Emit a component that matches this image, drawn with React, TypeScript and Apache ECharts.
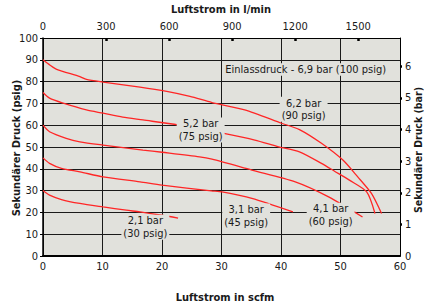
import React, { useEffect, useRef } from "react";
import * as echarts from "echarts";

// Curves: [scfm, psig]
const curve90: [number, number][] = [
  [0, 90], [1.2, 87.5], [2.3, 85.6], [6.2, 82.3], [7.3, 81], [10.1, 79.8], [16.3, 77.5],
  [20.8, 75.5], [24.7, 73.2], [28.4, 70.4], [33.9, 67], [40.1, 60.9], [43.1, 58],
  [46.8, 51.7], [50.4, 44], [52.9, 36.3], [55.2, 28.7], [56.9, 19.5],
];
const curve75: [number, number][] = [
  [0, 75], [1.1, 72.4], [3.4, 70.1], [7.3, 67], [10.1, 65.5], [13.4, 63.7], [16.8, 62.4],
  [22.7, 60.1], [30.4, 56.2], [35.6, 53.2], [39.6, 50.1], [43.1, 47.8], [46.8, 42.5],
  [49, 38.9], [51.5, 34.8], [54.4, 29.4], [55.8, 19.5],
];
const curve60: [number, number][] = [
  [0, 60], [1.1, 57], [3.9, 54], [6.2, 52.4], [10.1, 50.9], [16.8, 48.6], [20, 47.6],
  [26.3, 45.5], [28.4, 44.4], [35.1, 39.4], [42.4, 34], [48, 27.1], [53.7, 17.9],
];
const curve45: [number, number][] = [
  [0, 45], [1.1, 42.5], [3.1, 40.2], [6.2, 38.6], [10.1, 36.3], [16.3, 34], [20, 32.5],
  [28.3, 29.9], [30.1, 29.4], [35.1, 26.4], [42, 20.2],
];
const curve30: [number, number][] = [
  [0, 30], [1.1, 27.9], [3.1, 25.9], [6.2, 24.1], [10.1, 22.5], [14, 21], [16.3, 20.2],
  [20, 18.7], [22.7, 17.4],
];
const curves = [curve90, curve75, curve60, curve45, curve30];

// Annotation texts and their anchor (data coords, scfm / psig)
const annoTexts = [
  "Einlassdruck - 6,9 bar (100 psig)",
  "6,2 bar\n(90 psig)",
  "5,2 bar\n(75 psig)",
  "4,1 bar\n(60 psig)",
  "3,1 bar\n(45 psig)",
  "2,1 bar\n(30 psig)",
];
const annoAt: [number, number][] = [
  [44.15, 85.5], [43.8, 67.3], [26.5, 57.8], [48.35, 18.7], [34.15, 18.4], [17.2, 13.2],
];

const topTicks = [300, 600, 900, 1200, 1500];
const topLabels = [0, 300, 600, 900, 1200, 1500];
const barTicks = [1, 2, 3, 4, 5, 6];
const barLabels = [0, 1, 2, 3, 4, 5, 6];

const FONT = "'Liberation Sans Narrow', 'DejaVu Sans Condensed', sans-serif";
const BG = "#e1e1dc";
const INK = "#1a1a1a";

export default function App() {
  const ref = useRef<HTMLDivElement>(null);
  useEffect(() => {
    if (!ref.current) return;
    const chart = echarts.init(ref.current, undefined, { renderer: "svg" });
    const labelStyle = { color: INK, fontSize: 11, fontFamily: FONT };
    const plain = (v: number) => String(v);
    const option: any = {
      animation: false,
      grid: {
        left: 43, top: 38, width: 357, height: 218,
        show: true, backgroundColor: BG, borderWidth: 0,
      },
      xAxis: [
        {
          type: "value", min: 0, max: 60, interval: 10, position: "bottom",
          axisLine: { show: true, onZero: false, lineStyle: { color: "#000", width: 2 } },
          axisTick: { show: false },
          axisLabel: { ...labelStyle, margin: 5, formatter: plain },
          splitLine: { show: true, lineStyle: { color: INK, width: 1 } },
        },
        {
          type: "value", min: 0, max: 1699, position: "top",
          axisLine: { show: true, onZero: false, lineStyle: { color: "#000", width: 1 } },
          axisTick: { show: true, inside: true, length: 3, customValues: topTicks, lineStyle: { color: "#000", width: 2.5 } },
          axisLabel: { ...labelStyle, margin: 6, customValues: topLabels, formatter: plain },
          splitLine: { show: false },
        },
      ],
      yAxis: [
        {
          type: "value", min: 0, max: 100, interval: 10, position: "left",
          axisLine: { show: true, onZero: false, lineStyle: { color: "#000", width: 1.5 } },
          axisTick: { show: true, length: 3, lineStyle: { color: "#000", width: 1 } },
          axisLabel: { ...labelStyle, margin: 5, formatter: plain },
          splitLine: { show: true, lineStyle: { color: INK, width: 1 } },
        },
        {
          type: "value", min: 0, max: 6.895, position: "right",
          axisLine: { show: true, onZero: false, lineStyle: { color: "#000", width: 1 } },
          axisTick: { show: true, length: 2, customValues: barTicks, lineStyle: { color: "#000", width: 2.5 } },
          axisLabel: { ...labelStyle, margin: 5, customValues: barLabels, formatter: plain },
          splitLine: { show: false },
        },
      ],
      series: curves.map((c) => ({
        type: "line",
        xAxisIndex: 0,
        yAxisIndex: 0,
        data: c,
        smooth: 0.25,
        symbol: "none",
        lineStyle: { color: "#ff2626", width: 1.3 },
        z: 3,
      })),
    };
    chart.setOption(option);

    const annos = annoTexts.map((t, i) => {
      const p = chart.convertToPixel({ xAxisIndex: 0, yAxisIndex: 0 }, annoAt[i]) as number[];
      return {
        type: "text",
        x: p[0],
        y: p[1],
        z: 10,
        style: {
          text: t,
          align: "center",
          verticalAlign: "middle",
          fontSize: 11,
          fontFamily: FONT,
          fill: INK,
          lineHeight: 12.5,
          backgroundColor: BG,
          padding: [0, 2],
        },
      };
    });
    const titleStyle = { fontSize: 11, fontWeight: "bold", fontFamily: FONT, fill: INK, align: "center", verticalAlign: "middle" };
    chart.setOption({
      graphic: [
        ...annos,
        { type: "text", x: 221, y: 9, style: { ...titleStyle, text: "Luftstrom in l/min" } },
        { type: "text", x: 225, y: 297, style: { ...titleStyle, text: "Luftstrom in scfm" } },
        { type: "text", x: 16, y: 148, rotation: Math.PI / 2, style: { ...titleStyle, text: "Sekundärer Druck (psig)" } },
        { type: "text", x: 418, y: 150, rotation: Math.PI / 2, style: { ...titleStyle, fontSize: 10.5, text: "Sekundärer Druck (bar)" } },
      ],
    });
    return () => chart.dispose();
  }, []);
  return <div ref={ref} style={{ width: 424, height: 307, position: "absolute", left: 0, top: 0 }} />;
}
